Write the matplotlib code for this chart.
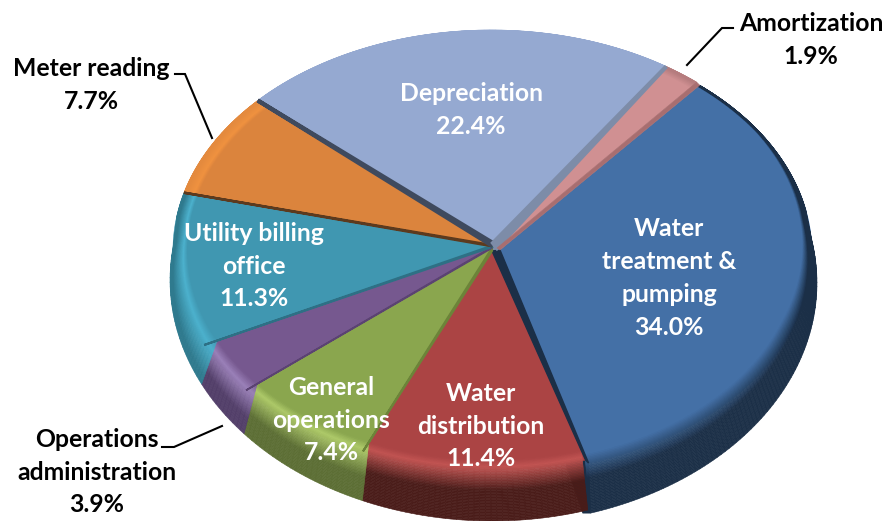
import numpy as np
import matplotlib
matplotlib.use("Agg")
import matplotlib.pyplot as plt
from matplotlib.collections import PolyCollection
from matplotlib.patches import Polygon
from matplotlib.colors import to_rgb

# ---- data (clockwise from the start angle)
categories = ["Water\ntreatment &\npumping", "Water\ndistribution", "General\noperations",
              "Operations\nadministration", "Utility billing\noffice", "Meter reading",
              "Depreciation", "Amortization"]
shares = [34.0, 11.4, 7.4, 3.9, 11.3, 7.7, 22.4, 1.9]

# ---- styles
face = ["#4470A6", "#AB4444", "#8AA64E", "#76588F", "#4097B1", "#DB843D", "#95A9D1", "#D09092"]
glow = ["#4470A6", "#C25553", "#AFCB6A", "#9C82BA", "#4DB2CE", "#F0923F", "#95A9D1", "#D09092"]
wall = ["#1B2F47", "#4A1C19", "#5C6E34", "#523E69", "#2F7A8E", "#E48A3E", "#95A9D1", "#B57C7E"]
ramp = [(.02, .42), (.12, .50), (.14, .60), (.22, .70), (.25, .85), (.3, .9), (.3, .9), (.3, .9)]
seam = [None, "#1B2F47", "#6C8439", "#5B4372", "#2E7085", "#5C3A1E", "#3F4A5E", "#7D8CA8"]
seam_width = [0, 1.0, 1.5, 1.2, 1.5, 1.8, 3.0, 3.0]
apex = [(500, 250), (492, 251), (492, 248), (492, 247), (491, 246), (491, 245), (493, 243), (497, 248)]
shift = [(3, 3), (0, 0), (0, 0), (0, 0), (0, 0), (0, 0), (0, 0), (0, 0)]
text_colors = ["white", "white", "white", "black", "white", "black", "white", "black"]
text_xy = [(669, 278), (481, 426), (331, 420), (97, 472), (254, 266), (91, 85), (471, 110), (811, 40)]
leaders = {3: [(162, 447), (174, 447), (222, 426)],
           5: [(175, 74), (185, 74), (212, 138)],
           7: [(733, 28), (722, 28), (687, 65)]}

START = 49.7
TOP = dict(cx=491, cy=250, rx=318, ry=220)
LOW = dict(cx=492, cy=280, rx=322, ry=241)
RING = 0.045

plt.rcParams["font.family"] = ["Lato", "DejaVu Sans"]
fig = plt.figure(figsize=(8.84, 5.21), dpi=100)
ax = fig.add_axes([0, 0, 1, 1])
ax.set_xlim(0, 884)
ax.set_ylim(521, 0)
ax.axis("off")


def on_ellipse(e, t, off):
    return np.c_[e["cx"] + off[0] + e["rx"] * np.cos(t), e["cy"] + off[1] - e["ry"] * np.sin(t)]


def mix(c0, c1, f):
    return tuple((1 - f) * a + f * b for a, b in zip(to_rgb(c0), to_rgb(c1)))


def shade(i, s):
    s1, s2 = ramp[i]
    if s <= s1:
        return mix(face[i], glow[i], s / s1)
    if s <= s2:
        return mix(glow[i], wall[i], (s - s1) / (s2 - s1))
    return to_rgb(wall[i])


angles = START - np.cumsum([0] + shares) * 3.6
levels = np.linspace(0, 1, 41)
first_edge = None
previous = None
for i, share in enumerate(shares):
    n = max(int(share * 3.6), 4)
    t = np.radians(np.linspace(angles[i], angles[i + 1], n))
    off = shift[i]
    top = on_ellipse(TOP, t, off)
    low = on_ellipse(LOW, t, off)
    # where the lower rim lies behind the top face, the rim ends at the top edge
    hidden = ((low[:, 0] - TOP["cx"] - off[0]) / TOP["rx"]) ** 2 + \
             ((low[:, 1] - TOP["cy"] - off[1]) / TOP["ry"]) ** 2 < 1
    outer = np.where(hidden[:, None], top, low)
    a = np.array(apex[i], float)
    width = RING * np.ones_like(t)
    if i == 0:
        width = RING * np.clip(0.7 - 0.9 * np.sin(t), 0.2, 1)
    inner = a + (1 - width)[:, None] * (top - a)
    if i == 0:  # dark cut wall of the pulled-out slice
        first_edge = (a.copy(), top[0].copy())
        ax.add_patch(Polygon([a + (-6, 4), a, top[-1], low[-1], low[-1] + (-8, 0)],
                             fc=wall[0], ec=wall[0], lw=0.5, zorder=2))
    ax.add_patch(Polygon(np.vstack([a, top]), fc=face[i], ec=face[i], lw=0.4, zorder=3 + i))
    polys, cols = [], []
    for s0, s1 in zip(levels[:-1], levels[1:]):
        p0 = inner + s0 * (outer - inner)
        p1 = inner + s1 * (outer - inner)
        for k in range(n - 1):
            polys.append([p0[k], p0[k + 1], p1[k + 1], p1[k]])
            cols.append(shade(i, (s0 + s1) / 2))
    ax.add_collection(PolyCollection(polys, facecolors=cols, edgecolors=cols, linewidths=0.4,
                                     zorder=3 + i))
    if seam[i] and previous is not None:  # cut face shared with the slice before
        ax.add_patch(Polygon([a, top[0], previous[1], previous[0]], fc=seam[i], ec=seam[i],
                             lw=seam_width[i], zorder=20))
    previous = (a.copy(), top[-1].copy())
    if i == len(shares) - 1:  # the cut face between the last and the first slice
        ax.add_patch(Polygon([a, top[-1], first_edge[1], first_edge[0]],
                             fc="#A86E70", ec="#A86E70", lw=0.4, zorder=20))
        ax.add_patch(Polygon([apex[6], a, first_edge[0], apex[1]],
                             fc="#7D8CA8", ec="#7D8CA8", lw=0.4, zorder=19))

for i, (name, share) in enumerate(zip(categories, shares)):
    ax.text(*text_xy[i], f"{name}\n{share:.1f}%", color=text_colors[i], ha="center", va="center",
            fontsize=17.8, fontweight="bold", linespacing=1.52, zorder=30)

for pts in leaders.values():
    xs, ys = zip(*pts)
    ax.plot(xs, ys, color="black", lw=1.5, zorder=25, solid_joinstyle="miter")

fig.savefig("out.png", dpi=100)
